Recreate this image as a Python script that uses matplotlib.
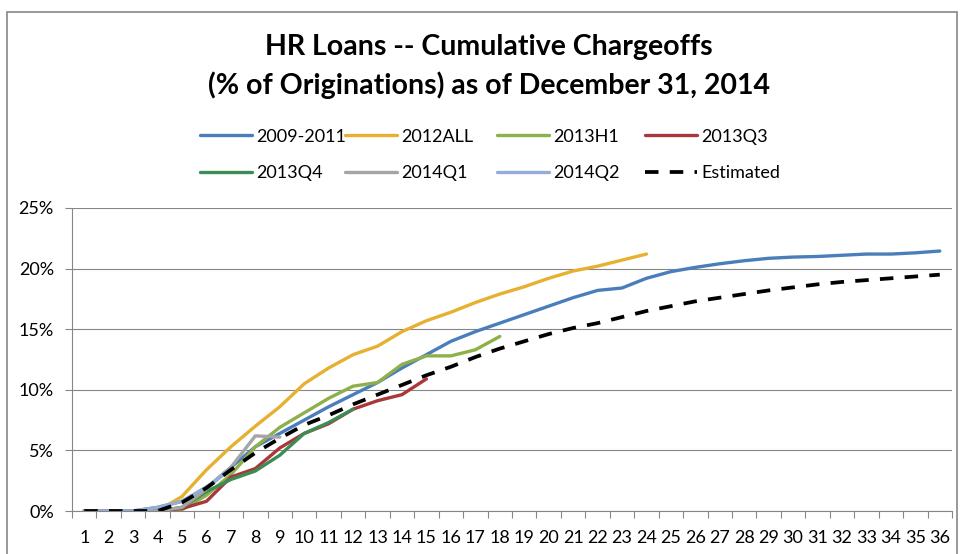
import matplotlib.pyplot as plt
from matplotlib.patches import Rectangle
from matplotlib.ticker import FixedLocator, FuncFormatter

# months on book
months = list(range(1, 37))

# cumulative chargeoffs, % of originations
s2009_2011 = [0, 0, 0, 0.3, 0.8, 1.9, 3.6, 5.3, 6.4, 7.5, 8.6, 9.6, 10.6, 11.8, 12.9, 14.0, 14.8, 15.5,
              16.2, 16.9, 17.6, 18.2, 18.4, 19.2, 19.75, 20.1, 20.4, 20.65, 20.85, 20.95, 21.0, 21.1,
              21.2, 21.2, 21.3, 21.45]
s2012all = [0, 0, 0, 0, 1.2, 3.4, 5.3, 7.0, 8.6, 10.5, 11.8, 12.9, 13.6, 14.8, 15.7, 16.4, 17.2, 17.9,
            18.5, 19.2, 19.8, 20.2, 20.7, 21.2]
s2013h1 = [0, 0, 0, 0, 0.1, 1.3, 3.0, 5.3, 6.9, 8.1, 9.3, 10.3, 10.6, 12.1, 12.8, 12.8, 13.3, 14.4]
s2013q3 = [0, 0, 0, 0, 0.2, 0.8, 2.8, 3.5, 5.2, 6.4, 7.2, 8.4, 9.1, 9.6, 10.9]
s2013q4 = [0, 0, 0, 0, 0.3, 1.6, 2.6, 3.3, 4.6, 6.4, 7.3, 8.4]
s2014q1 = [0, 0, 0, 0, 0.3, 1.8, 3.6, 6.2, 6.1]
s2014q2 = [0, 0, 0, 0.3, 0.8, 2.0, 3.4]
estimated = [0, 0, 0, 0, 0.7, 1.9, 3.4, 4.8, 6.0, 7.1, 7.9, 8.8, 9.6, 10.4, 11.2, 11.9, 12.7, 13.4,
             14.0, 14.6, 15.1, 15.5, 16.0, 16.5, 16.9, 17.3, 17.6, 17.9, 18.2, 18.45, 18.7, 18.9,
             19.05, 19.2, 19.35, 19.5]

series = [
    ("2009-2011", s2009_2011, "#4A7EBB"),
    ("2012ALL", s2012all, "#E6B030"),
    ("2013H1", s2013h1, "#8EB04B"),
    ("2013Q3", s2013q3, "#A8383A"),
    ("2013Q4", s2013q4, "#3B8C55"),
    ("2014Q1", s2014q1, "#A5A5A5"),
    ("2014Q2", s2014q2, "#93AED6"),
]

plt.rcParams['font.family'] = ['Lato', 'DejaVu Sans']
W, H = 962, 554
fig = plt.figure(figsize=(W / 100, H / 100), dpi=100)
ax = fig.add_axes([72 / W, 1 - 511 / H, (952 - 72) / W, (511 - 208) / H])

grey = "#868686"
handles = []
for z, (name, vals, col) in enumerate(series):
    ln, = ax.plot(months[:len(vals)], vals, color=col, lw=2.4, label=name,
                  solid_capstyle='round', zorder=3 + z)
    handles.append(ln)
est_ln, = ax.plot(months, estimated, color="black", lw=2.7, ls=(0, (3.6, 3.0)),
                  label="Estimated", zorder=20)
handles.append(est_ln)

ax.set_xlim(0.5, 36.5)
ax.set_ylim(0, 25)
ax.yaxis.set_major_locator(FixedLocator([0, 5, 10, 15, 20, 25]))
ax.yaxis.set_major_formatter(FuncFormatter(lambda v, p: f"{v:.0f}%"))
ax.set_xticks(months)
ax.set_xticks([m + 0.5 for m in range(0, 37)], minor=True)
ax.tick_params(axis='x', which='major', length=0, pad=14, labelsize=13)
ax.tick_params(axis='x', which='minor', length=5, color=grey, width=0.8)
ax.tick_params(axis='y', length=5, color=grey, width=0.8, pad=8, labelsize=13)
ax.grid(axis='y', color=grey, lw=0.8)
ax.set_axisbelow(True)
for s in ('top', 'right'):
    ax.spines[s].set_visible(False)
for s in ('left', 'bottom'):
    ax.spines[s].set_color(grey)
    ax.spines[s].set_linewidth(0.8)
ax.spines['bottom'].set_zorder(30)

fig.text(489 / W, 1 - 66.5 / H, "HR Loans -- Cumulative Chargeoffs\n(% of Originations) as of December 31, 2014",
         ha='center', va='center', fontsize=20.5, fontweight='bold', linespacing=1.5)

# legend: four columns of two rows
col_x = [200, 345, 497, 645]
for c in range(4):
    leg = fig.legend(handles=[handles[c], handles[c + 4]], loc='center left',
                     bbox_to_anchor=(col_x[c] / W, 1 - 155 / H), frameon=False,
                     fontsize=13, handlelength=2.9, handletextpad=0.22, borderpad=0,
                     borderaxespad=0, labelspacing=1.16)

fig.patches.append(Rectangle((7 / W, -0.02), (957 - 7) / W, 1.02 - 12 / H, transform=fig.transFigure,
                             fill=False, edgecolor=grey, lw=1.2))

fig.savefig("out.png", dpi=100)
